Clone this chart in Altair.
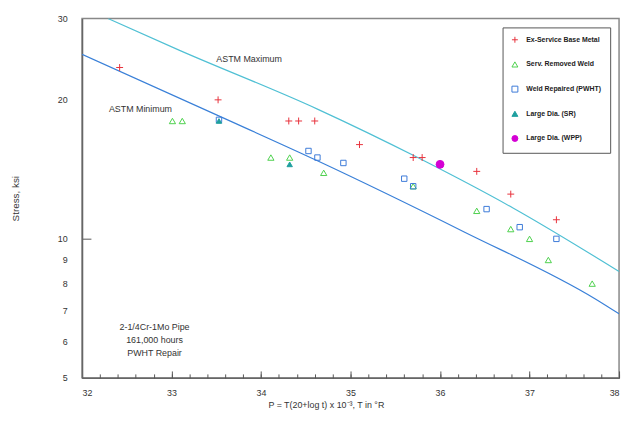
import altair as alt
import pandas as pd

# ---------------- data ----------------
series_names = ["Ex-Service Base Metal", "Serv. Removed Weld", "Weld Repaired (PWHT)",
                "Large Dia. (SR)", "Large Dia. (WPP)"]

ex_service_P = [32.42, 33.52, 34.31, 34.42, 34.60, 35.10, 35.70, 35.80, 36.41, 36.79, 37.30]
ex_service_S = [23.5, 20.0, 18.0, 18.0, 18.0, 16.0, 15.0, 15.0, 14.0, 12.5, 11.0]

serv_removed_P = [33.01, 33.12, 34.11, 34.32, 34.70, 35.70, 36.41, 36.79, 37.00, 37.21, 37.70]
serv_removed_S = [18.0, 18.0, 15.0, 15.0, 13.9, 13.0, 11.5, 10.5, 10.0, 9.0, 8.0]

weld_repaired_P = [33.53, 34.53, 34.63, 34.92, 35.60, 35.70, 36.52, 36.89, 37.30]
weld_repaired_S = [18.1, 15.5, 15.0, 14.6, 13.5, 13.0, 11.6, 10.6, 10.0]

large_sr_P = [33.53, 34.32]
large_sr_S = [18.0, 14.5]

large_wpp_P = [36.0]
large_wpp_S = [14.5]

line_names = ["ASTM Maximum", "ASTM Minimum"]
astm_max_P = [32.29, 33.09, 34.63, 35.75, 36.82, 38.0]
astm_max_S = [30.0, 25.6, 19.1, 15.0, 11.65, 8.5]
astm_min_P = [32.0, 33.49, 34.63, 36.27, 37.74, 38.0]
astm_min_S = [25.1, 18.6, 14.76, 10.35, 7.4, 6.88]

line_label_text = ["ASTM Maximum", "ASTM Minimum"]
line_label_P = [33.5, 32.3]
line_label_S = [24.5, 19.1]

note_text = ["2-1/4Cr-1Mo Pipe", "161,000 hours", "PWHT Repair"]
note_P = [32.81, 32.81, 32.81]
note_S = [6.45, 6.05, 5.67]

x_ticks = [32, 33, 34, 35, 36, 37, 38]
x_minor_ticks = [round(32 + 0.2 * i, 1) for i in range(31)]
y_ticks = [5, 6, 7, 8, 9, 10, 20, 30]

# ---------------- tables ----------------
rows = []
for name, xs_, ys_ in zip(series_names,
                          [ex_service_P, serv_removed_P, weld_repaired_P, large_sr_P, large_wpp_P],
                          [ex_service_S, serv_removed_S, weld_repaired_S, large_sr_S, large_wpp_S]):
    for a, b in zip(xs_, ys_):
        rows.append({"series": name, "P": a, "S": b})
pts = pd.DataFrame(rows)

lrows = []
for name, xs_, ys_ in zip(line_names, [astm_max_P, astm_min_P], [astm_max_S, astm_min_S]):
    for i, (a, b) in enumerate(zip(xs_, ys_)):
        lrows.append({"line": name, "P": a, "S": b, "order": i})
lines_df = pd.DataFrame(lrows)

labels_df = pd.DataFrame({"text": line_label_text, "P": line_label_P, "S": line_label_S})
notes_df = pd.DataFrame({"text": note_text, "P": note_P, "S": note_S})

FONT = "Liberation Sans"
xs = alt.Scale(domain=[32, 38], nice=False, zero=False)
ys = alt.Scale(type="log", domain=[5, 30], nice=False)

plus_path = "M-1,0L1,0M0,-1L0,1"
shapes = [plus_path, "triangle-up", "square", "triangle-up", "circle"]
strokes = ["#e8323c", "#4cd04c", "#3c7ad8", "#1f9f9f", "#d400d4"]
fills = ["transparent", "transparent", "transparent", "#1f9f9f", "#d400d4"]

main_x_axis = alt.Axis(values=x_ticks, ticks=False, tickSize=0, labelPadding=11,
                       labelFont=FONT, labelFontSize=9, labelColor="#333333",
                       domainColor="#666666", domainWidth=1.5, grid=False,
                       title="P = T(20+log t) x 10\u207b\u00b3, T in \u00b0R",
                       titleFont=FONT, titleFontSize=9, titleFontWeight="normal",
                       titleColor="#333333", titlePadding=3, titleX=247,
                       orient="bottom", format="d")
main_y_axis = alt.Axis(values=y_ticks, ticks=False, tickSize=0, labelPadding=15,
                       labelFont=FONT, labelFontSize=9, labelColor="#333333",
                       domainColor="#666666", domainWidth=1.5, grid=False,
                       title="Stress, ksi", titleFont=FONT, titleFontSize=10,
                       titleFontWeight="normal", titleColor="#333333", titlePadding=37,
                       orient="left", format="d")

size_rule = alt.SizeValue(
    value=30,
    condition=[
        {"test": f"datum.series === '{series_names[0]}'", "value": 49},
        {"test": f"datum.series === '{series_names[1]}'", "value": 40},
        {"test": f"datum.series === '{series_names[4]}'", "value": 64},
    ],
)

points = alt.Chart(pts).mark_point(filled=False, strokeWidth=1, opacity=1).encode(
    x=alt.X("P:Q", scale=xs, axis=main_x_axis),
    y=alt.Y("S:Q", scale=ys, axis=main_y_axis),
    stroke=alt.Stroke("series:N", scale=alt.Scale(domain=series_names, range=strokes),
                      title=None),
    fill=alt.Fill("series:N", scale=alt.Scale(domain=series_names, range=fills), title=None),
    shape=alt.Shape("series:N", scale=alt.Scale(domain=series_names, range=shapes), title=None),
    size=size_rule,
)

major_tick_axis = alt.Axis(values=x_ticks, labels=False, domain=False, ticks=True, tickSize=7,
                           offset=-7, tickColor="#555555", tickWidth=1, grid=False,
                           title=None, orient="bottom")
y_tick_axis = alt.Axis(values=[10], labels=False, domain=False, ticks=True, tickSize=9,
                       offset=-9, tickColor="#555555", tickWidth=1, grid=False,
                       title=None, orient="left")

lines = alt.Chart(lines_df).mark_line(strokeWidth=1.2, clip=True, interpolate="monotone").encode(
    x=alt.X("P:Q", scale=xs, axis=major_tick_axis),
    y=alt.Y("S:Q", scale=ys, axis=y_tick_axis),
    color=alt.Color("line:N", scale=alt.Scale(domain=line_names, range=["#50c0d4", "#3a80d8"]),
                    legend=None),
    order="order:Q",
)

minor_tick_axis = alt.Axis(values=x_minor_ticks, labels=False, domain=False, ticks=True,
                           tickSize=4, offset=-4, tickColor="#555555", tickWidth=1,
                           grid=False, title=None, orient="bottom")

line_labels = alt.Chart(labels_df).mark_text(align="left", baseline="middle", font=FONT,
                                             fontSize=9, color="#333333").encode(
    x=alt.X("P:Q", scale=xs, axis=minor_tick_axis),
    y=alt.Y("S:Q", scale=ys, axis=None),
    text="text:N",
)

notes = alt.Chart(notes_df).mark_text(align="center", baseline="middle", font=FONT,
                                      fontSize=9, color="#333333").encode(
    x=alt.X("P:Q", scale=xs, axis=None),
    y=alt.Y("S:Q", scale=ys, axis=None),
    text="text:N",
)

chart = alt.layer(lines, points, line_labels, notes).resolve_axis(
    x="independent", y="independent"
).resolve_scale(x="shared", y="shared").properties(
    width=544, height=364,
    autosize=alt.AutoSizeParams(type="none"),
    padding={"left": 75, "top": 8, "right": 4, "bottom": 40},
    background="white",
).configure_view(stroke="#888888", strokeWidth=1.5).configure_legend(
    orient="top-right", offset=9, padding=9, strokeColor="#555555", rowPadding=14,
    labelFont=FONT, labelFontSize=7, labelFontWeight="bold", labelColor="#222222",
    symbolSize=36, symbolStrokeWidth=1, labelOffset=8,
)

chart.save("out.html", embed_options={"renderer": "svg", "actions": False})
